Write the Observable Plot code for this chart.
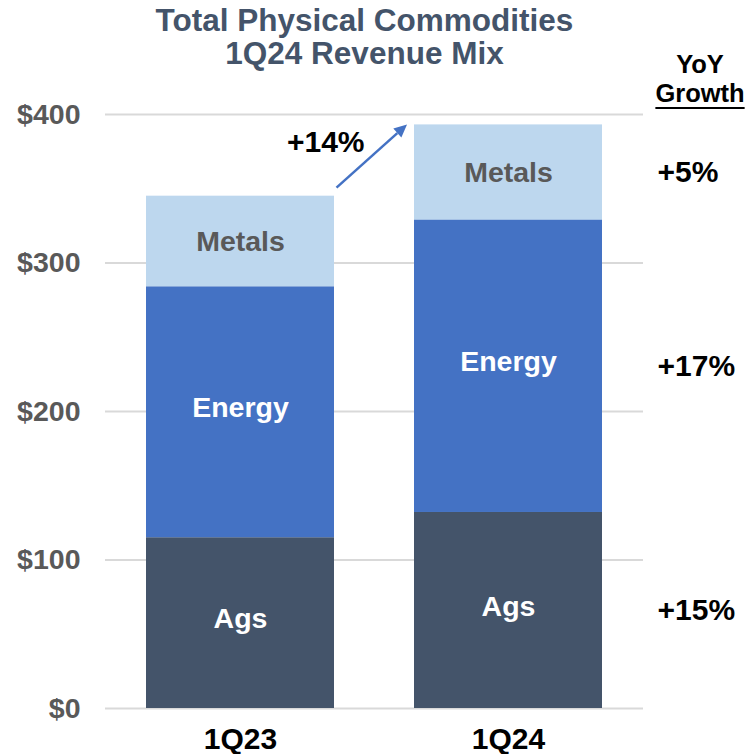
<!DOCTYPE html>
<html><head><meta charset="utf-8">
<script src="https://cdn.jsdelivr.net/npm/d3@7"></script>
<script src="https://cdn.jsdelivr.net/npm/@observablehq/plot@0.6"></script>
<style>
body{margin:0;background:#fff;}
#wrap{position:relative;width:756px;height:754px;font-family:"Liberation Sans",Arial,sans-serif;}
#title{position:absolute;left:0;top:4px;width:729px;text-align:center;font-size:31.5px;line-height:33px;font-weight:bold;color:#44546A;}
#yoy{position:absolute;left:640px;top:50px;width:120px;text-align:center;font-size:25.5px;line-height:29px;font-weight:bold;color:#000;}
#yoy u{text-decoration-thickness:2px;text-underline-offset:5px;}
</style></head>
<body><div id="wrap"><div id="chart"></div><div id="title">Total Physical Commodities<br>1Q24 Revenue Mix</div><div id="yoy">YoY<br><u>Growth</u></div></div>
<script>
const quarters = ["1Q23", "1Q24"];
const segments = ["Ags", "Energy", "Metals"];
const ags = [115, 132];
const energy = [169, 197];
const metals = [61, 64];
const yoyGrowth = ["+15%", "+17%", "+5%"];
const totalGrowth = "+14%";
const yTicks = [0, 100, 200, 300, 400];
const segColors = ["#44546A", "#4472C4", "#BDD7EE"];

const seriesBySeg = [ags, energy, metals];
const rows = [];
quarters.forEach((q, qi) => {
  let base = 0;
  segments.forEach((s, si) => {
    const v = seriesBySeg[si][qi];
    rows.push({quarter: q, segment: s, value: v, y1: base, y2: base + v, growth: yoyGrowth[si]});
    base += v;
  });
});
const totals = quarters.map((q, qi) => d3.sum(seriesBySeg, s => s[qi]));
const font = "'Liberation Sans', Arial, sans-serif";

const arrowData = [{from: quarters[0], to: quarters[1], a: totals[0], b: totals[1]}];

const plot = Plot.plot({
  width: 756,
  height: 754,
  marginTop: 114,
  marginBottom: 46,
  marginLeft: 105,
  marginRight: 113,
  style: {fontFamily: font, background: "white", overflow: "visible"},
  x: {domain: quarters, paddingInner: 0.3, paddingOuter: 0.151, label: null},
  y: {domain: [0, 400], label: null},
  color: {domain: segments, range: segColors},
  marks: [
    Plot.ruleY(yTicks, {stroke: "#d9d9d9", strokeWidth: 2}),
    Plot.barY(rows, {x: "quarter", y1: "y1", y2: "y2", fill: "segment"}),
    Plot.axisY({ticks: yTicks, tickFormat: d => "$" + d, tickSize: 0, tickPadding: 25,
      fontSize: 28.5, fontWeight: "bold", fill: "#595959", label: null}),
    Plot.axisX({tickSize: 0, tickPadding: 19, fontSize: 30, fontWeight: "bold", fill: "#000", label: null}),
    Plot.text(rows.filter(d => d.segment !== "Metals"), {x: "quarter", y: d => (d.y1 + d.y2) / 2, text: "segment",
      fill: "white", fontSize: 28.5, fontWeight: "bold", dy: -4}),
    Plot.text(rows.filter(d => d.segment === "Metals"), {x: "quarter", y: d => (d.y1 + d.y2) / 2, text: "segment",
      fill: "#595959", fontSize: 28.5, fontWeight: "bold", dy: 0}),
    Plot.text(rows.filter(d => d.quarter === quarters[1]), {x: "quarter", y: d => (d.y1 + d.y2) / 2, text: "growth",
      fill: "#000", fontSize: 30, fontWeight: "bold", textAnchor: "start", dx: 149}),
    Plot.text([{q: quarters[0], y: totals[1], label: totalGrowth}], {x: "q", y: "y", text: "label",
      fill: "#000", fontSize: 30, fontWeight: "bold", textAnchor: "end", dx: 124, dy: 17}),
    Plot.arrow(arrowData, {x1: "from", x2: "to", y1: "a", y2: "b",
      render(index, scales, values, dimensions, context) {
        let bw = scales.x && scales.x.bandwidth;
        bw = typeof bw === "function" ? bw() : (bw ?? (scales.scales && scales.scales.x && scales.scales.x.bandwidth) ?? 188);
        const g = d3.create("svg:g");
        for (const i of index) {
          const x0 = values.x1[i] + bw + 2.5, y0 = values.y1[i] - 8;
          const xe = values.x2[i] - 7, ye = values.y2[i];
          const ang = Math.atan2(ye - y0, xe - x0);
          const L = 13, W = 6;
          const bx = xe - L * Math.cos(ang), by = ye - L * Math.sin(ang);
          g.append("line").attr("x1", x0).attr("y1", y0).attr("x2", bx).attr("y2", by)
            .attr("stroke", "#4472C4").attr("stroke-width", 2.5);
          const px = -Math.sin(ang) * W, py = Math.cos(ang) * W;
          g.append("path").attr("d", `M${xe},${ye}L${bx + px},${by + py}L${bx - px},${by - py}Z`).attr("fill", "#4472C4");
        }
        return g.node();
      }})
  ]
});
document.getElementById("chart").appendChild(plot);
</script>
</body></html>
